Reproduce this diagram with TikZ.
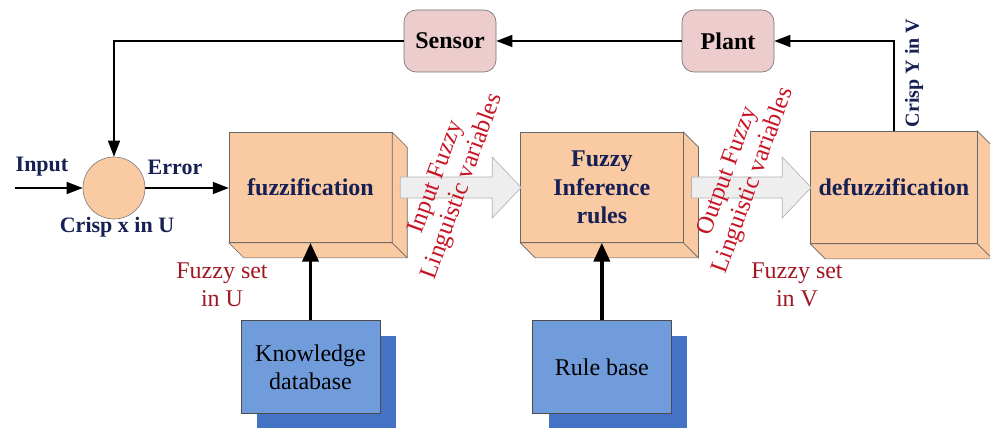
\documentclass[tikz,border=0pt]{standalone}
\usepackage{fontspec}
\setmainfont{Liberation Serif}[UprightFont={Liberation Serif},BoldFont={Liberation Serif Bold},
  ItalicFont={Liberation Serif Italic},BoldItalicFont={Liberation Serif Bold Italic}]
\usetikzlibrary{arrows.meta,shadows,positioning,shapes,calc}

\definecolor{peach}{RGB}{250,202,162}
\definecolor{rosy}{RGB}{236,204,204}
\definecolor{navy}{RGB}{22,32,84}
\definecolor{darkred}{RGB}{160,24,34}
\definecolor{brightred}{RGB}{200,20,36}
\definecolor{lightblue}{RGB}{112,156,220}
\definecolor{deepblue}{RGB}{68,114,196}
\definecolor{arrowgrey}{RGB}{238,238,238}

% side and bottom faces of a peach block
\newcommand{\bevel}[1]{%
  \draw[face] (#1.north east) -- ++(15,15) -- ($(#1.south east)+(15,15)$)
    -- ($(#1.south west)+(15,15)$) -- (#1.south west) -- (#1.south east) -- cycle;
  \draw[face] (#1.south east) -- ++(15,15);}

% broad grey arrow between two blocks
\newcommand{\fatarrow}[2]{%
  \draw[fat] ($(#1)+(8,-10.5)$) -- ($(#2)+(-28,-10.5)$) -- ($(#2)+(-28,-30.5)$)
    -- ($(#2)+(1,0)$) -- ($(#2)+(-28,30.5)$) -- ($(#2)+(-28,10.5)$)
    -- ($(#1)+(8,10.5)$) -- cycle;}

\begin{document}
\begin{tikzpicture}[x=0.75pt,y=-0.75pt,>={Triangle[length=12pt,width=9pt]},
    line width=1.1pt,node distance=96pt,
    block/.style={draw=black!60,line width=0.5pt,fill=peach,minimum width=122pt,
      minimum height=82.5pt,inner sep=0pt,align=center,text=navy,
      font=\bfseries\fontsize{18}{21.5}\selectfont},
    face/.style={draw=black!60,line width=0.5pt,fill=peach},
    fat/.style={draw=black!30,line width=0.5pt,fill=arrowgrey},
    loopbox/.style={draw=black!55,line width=0.5pt,fill=rosy,rounded corners=9pt,
      minimum width=69pt,minimum height=46.5pt,font=\bfseries\fontsize{18}{21}\selectfont},
    base/.style={draw=black!70,line width=0.5pt,fill=lightblue,minimum width=104pt,
      minimum height=70pt,inner sep=0pt,align=center,font=\fontsize{18}{21}\selectfont,
      general shadow={fill=deepblue,shadow xshift=12pt,shadow yshift=-12pt}},
    sumpt/.style={circle,draw=black!50,line width=0.5pt,fill=peach,minimum size=46.5pt,inner sep=0pt},
    lbl/.style={text=navy,font=\bfseries\fontsize{16.5}{19}\selectfont},
    set/.style={text=darkred,align=center,font=\fontsize{18}{21}\selectfont},
    varlbl/.style={text=brightred,align=center,rotate=70,font=\fontsize{18.5}{20.6}\selectfont},
    up/.style={->,line width=2.6pt,>={Triangle[length=14pt,width=12pt]}}]

    \useasboundingbox (0,0) rectangle (990,428);

    \node[block] (fuzz) at (310.5,187.5) {fuzzification};
    \node[block] (infer) [right=of fuzz] {Fuzzy\\Inference\\rules};
    \node[block,minimum width=125pt,minimum height=84pt] (defuzz) [right=95pt of infer] {defuzzification};
    \bevel{fuzz}
    \bevel{infer}
    \bevel{defuzz}
    \fatarrow{fuzz.east}{infer.west}
    \fatarrow{infer.east}{defuzz.west}

    \node[base] (kb) [below=57.75pt of fuzz] {Knowledge\\database};
    \node[base] (rules) [below=57.75pt of infer] {Rule base};

    \node[sumpt] (sum) at (114,188) {};
    \node[loopbox] (sensor) at (450,41) {Sensor};
    \node[loopbox] (plant) at (728,41) {Plant};
    \coordinate (in) at (15,188);

    \draw[->] (in) -- (sum);
    \draw[->] (sum) -- (fuzz.west |- sum);
    \draw[->] (defuzz.north) |- (plant);
    \draw[->] (plant) -- (sensor);
    \draw[->] (sensor) -| (sum);
    \draw[up] (kb) -- (fuzz);
    \draw[up] (rules) -- (infer);

    \node[lbl] at (42,167) {Input};
    \node[lbl] at (175,167) {Error};
    \node[lbl] at (117,227) {Crisp x in U};
    \node[lbl,rotate=90,font=\bfseries\fontsize{15}{18}\selectfont] at (914,73) {Crisp Y in V};
    \node[set] at (222,285) {Fuzzy set\\in U};
    \node[set] at (797,285) {Fuzzy set\\in V};
    \node[varlbl] at (450,182) {Input Fuzzy\\Linguistic variables};
    \node[varlbl] at (741,176) {Output Fuzzy\\Linguistic variables};
\end{tikzpicture}
\end{document}
